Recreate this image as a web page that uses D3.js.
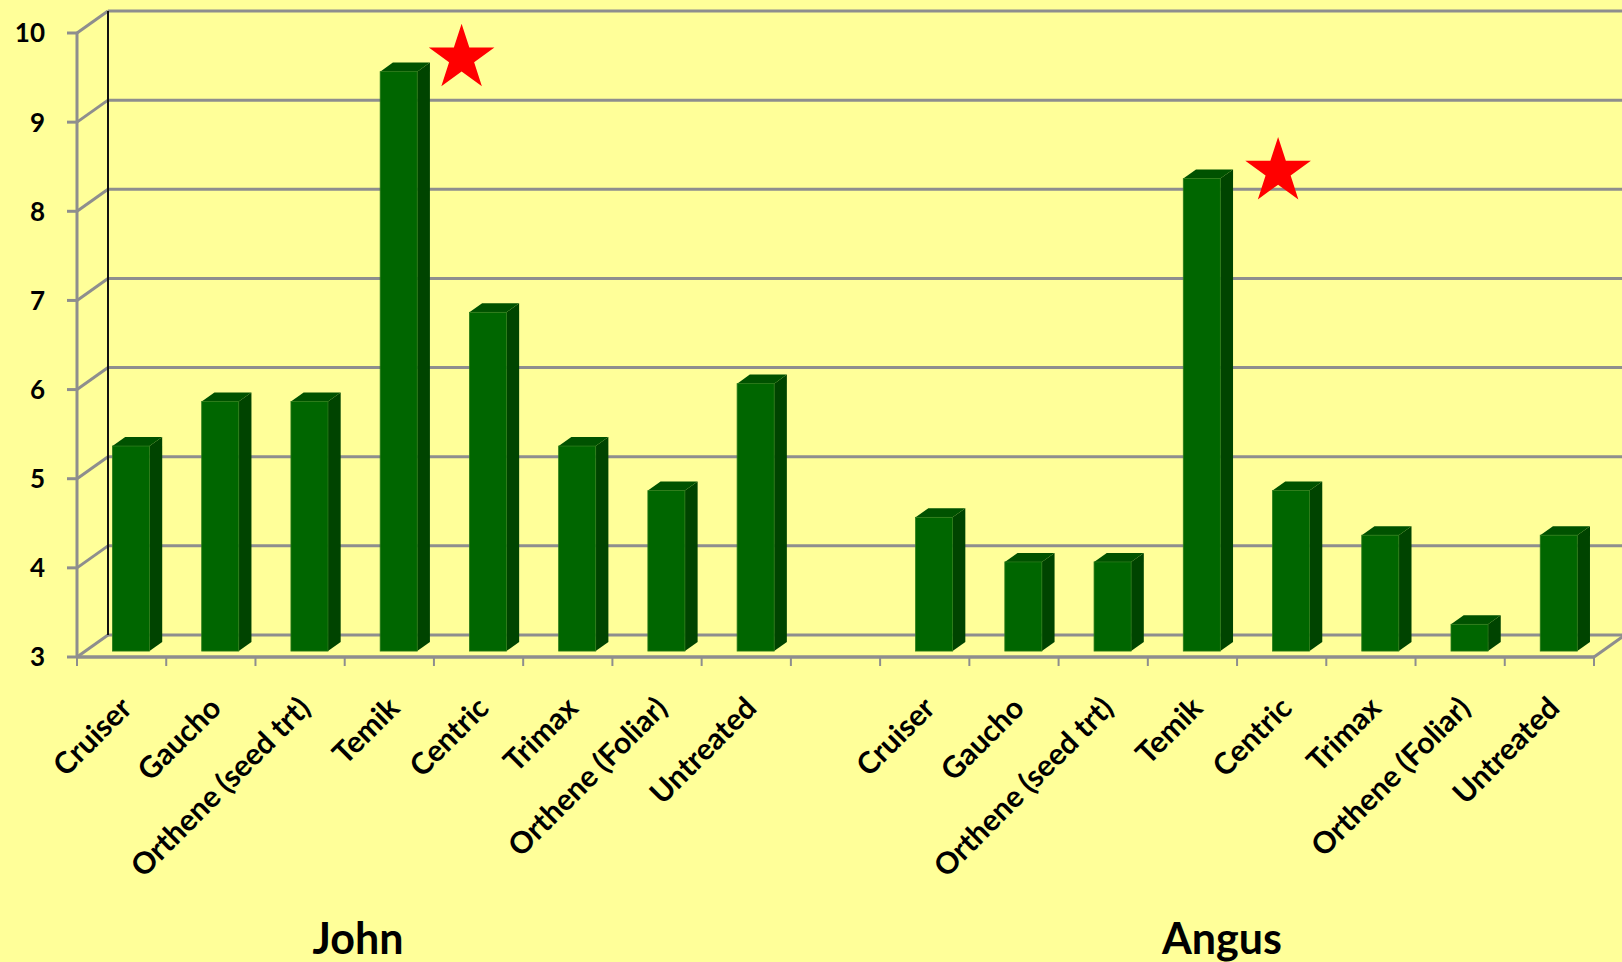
<!DOCTYPE html>
<html><head><meta charset="utf-8">
<script src="https://cdn.jsdelivr.net/npm/d3@7"></script>
<style>html,body{margin:0;padding:0;background:#FFFF99;overflow:hidden} svg{display:block}</style>
</head><body>
<script>
// ---- data ----
const groups = ["John", "Angus"];
const treatments = ["Cruiser","Gaucho","Orthene (seed trt)","Temik","Centric","Trimax","Orthene (Foliar)","Untreated"];
const johnValues  = [5.3, 5.8, 5.8, 9.5, 6.8, 5.3, 4.8, 6.0];
const angusValues = [4.5, 4.0, 4.0, 8.3, 4.8, 4.3, 3.3, 4.3];
const yTicks = [3, 4, 5, 6, 7, 8, 9, 10];
// significance stars: placed between Temik and Centric of each group
const starGroups = ["John", "Angus"];
const starValues = [9.65, 8.38];

// ---- layout ----
const W = 1622, H = 962;
const svg = d3.select("body").append("svg").attr("width", W).attr("height", H);
svg.append("rect").attr("width", W).attr("height", H).attr("fill", "#FFFF99");

const keys = [...treatments.map(t => "John|" + t), "gap", ...treatments.map(t => "Angus|" + t)];
const x = d3.scaleBand().domain(keys).range([77, 1594]);
const y = d3.scaleLinear().domain([3, 10]).range([657, 33]);
const DX = 31, DY = 22;           // depth projection of the back wall
const P = (xf, v, z) => [xf + z * DX, y(v) - z * DY];
const bw = x.bandwidth();
const gridCol = "#8e8e8e";
const font = "Lato, 'Open Sans', sans-serif";

// back wall gridlines
yTicks.forEach(v => {
  const a = P(77, v, 1);
  svg.append("line").attr("x1", a[0]).attr("y1", a[1]).attr("x2", W + 5).attr("y2", a[1])
    .attr("stroke", gridCol).attr("stroke-width", 3);
  const f = P(77, v, 0);
  svg.append("line").attr("x1", f[0]).attr("y1", f[1]).attr("x2", a[0]).attr("y2", a[1])
    .attr("stroke", gridCol).attr("stroke-width", 3);
  svg.append("line").attr("x1", f[0] - 10).attr("y1", f[1]).attr("x2", f[0]).attr("y2", f[1])
    .attr("stroke", gridCol).attr("stroke-width", 3);
});
// front left vertical
svg.append("line").attr("x1", 77).attr("y1", y(10)).attr("x2", 77).attr("y2", y(3))
  .attr("stroke", gridCol).attr("stroke-width", 3);
// back left vertical (dark)
{
  const t = P(77, 10, 1), b = P(77, 3, 1);
  svg.append("line").attr("x1", t[0]).attr("y1", t[1]).attr("x2", b[0]).attr("y2", b[1])
    .attr("stroke", "#111").attr("stroke-width", 2);
}
// floor front edge and right diagonal
svg.append("line").attr("x1", 77).attr("y1", y(3)).attr("x2", 1594).attr("y2", y(3))
  .attr("stroke", gridCol).attr("stroke-width", 3.5);
{
  const a = P(1594, 3, 0), b = P(1594, 3, 1);
  svg.append("line").attr("x1", a[0]).attr("y1", a[1]).attr("x2", b[0]).attr("y2", b[1])
    .attr("stroke", gridCol).attr("stroke-width", 3);
}
// category ticks at band boundaries
const bounds = keys.map(k => x(k)).concat([x.range()[1]]);
svg.selectAll(".xt").data(bounds).join("line")
  .attr("x1", d => d).attr("x2", d => d).attr("y1", y(3)).attr("y2", y(3) + 9)
  .attr("stroke", gridCol).attr("stroke-width", 2);

// y labels
svg.selectAll(".yl").data(yTicks).join("text")
  .attr("x", 45).attr("y", d => y(d)).attr("dy", "0.36em")
  .attr("text-anchor", "end")
  .attr("font-family", font).attr("font-weight", 700)
  .attr("font-size", 26).attr("fill", "#000").text(d => d);

// bars
const bars = [];
treatments.forEach((t, i) => bars.push({ key: "John|" + t, v: johnValues[i] }));
treatments.forEach((t, i) => bars.push({ key: "Angus|" + t, v: angusValues[i] }));
const z0 = 0.27, z1 = 0.68, w = bw * 0.415;
const pt = p => p.join(",");
const gb = svg.append("g");
bars.forEach(d => {
  const xl = x(d.key) + bw / 2 - w / 2 + 1, xr = xl + w;
  const g = gb.append("g");
  g.append("polygon").attr("points", [P(xr, d.v, z0), P(xr, d.v, z1), P(xr, 3, z1), P(xr, 3, z0)].map(pt).join(" "))
    .attr("fill", "#004400");
  g.append("polygon").attr("points", [P(xl, d.v, z0), P(xr, d.v, z0), P(xr, d.v, z1), P(xl, d.v, z1)].map(pt).join(" "))
    .attr("fill", "#005200");
  const a = P(xl, d.v, z0), b = P(xr, 3, z0);
  g.append("rect").attr("x", a[0]).attr("y", a[1]).attr("width", b[0] - a[0]).attr("height", b[1] - a[1])
    .attr("fill", "#006600").attr("stroke", "#2a7a1a").attr("stroke-width", 0.8);
});

// category labels
const labels = keys.filter(k => k !== "gap");
svg.selectAll(".xl").data(labels).join("text")
  .attr("transform", d => `translate(${x(d) + bw / 2 + 12},${710}) rotate(-45)`)
  .attr("text-anchor", "end")
  .attr("font-family", font).attr("font-weight", 700)
  .attr("font-size", 30).attr("fill", "#000")
  .text(d => d.split("|")[1]);

// group labels
const groupX = { John: 358, Angus: 1222 };
svg.selectAll(".gl").data(groups).join("text")
  .attr("x", d => groupX[d]).attr("y", 954).attr("text-anchor", "middle")
  .attr("font-family", font).attr("font-weight", 700)
  .attr("font-size", 43).attr("fill", "#000").text(d => d);

// stars
const starShift = { John: -0.19, Angus: -0.04 };
const star = d3.symbol().type(d3.symbolStar).size(34.5 * 34.5 / 0.8908130915292852);
starGroups.forEach((gname, i) => {
  const k = gname + "|Centric";
  const cx = x(k) + bw / 2 + starShift[gname] * bw;
  const cy = y(starValues[i]) - z0 * DY;
  svg.append("path").attr("d", star()).attr("transform", `translate(${cx},${cy})`).attr("fill", "#FF0000");
});
</script>
</body></html>
